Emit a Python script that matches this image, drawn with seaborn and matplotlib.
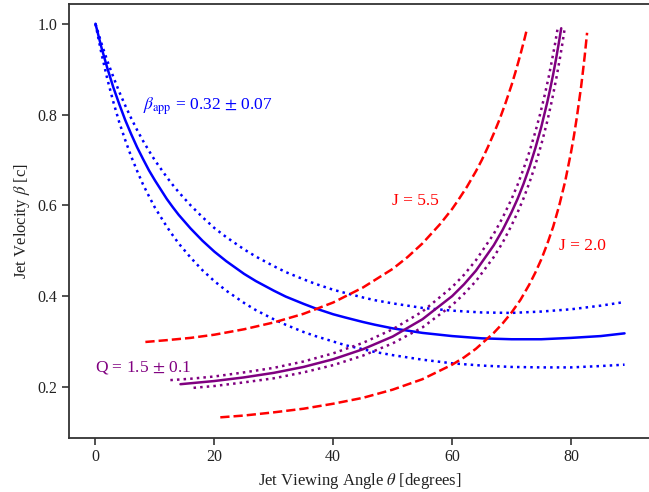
import numpy as np
import pandas as pd
import matplotlib
matplotlib.use("Agg")
import matplotlib.pyplot as plt
import seaborn as sns

# ---- data ----
# beta_app curves (solid = 0.32, dotted = 0.39 / 0.25)
theta_app = [0, 1, 2, 3, 4, 5, 6, 7, 8, 9, 10, 12, 13, 14, 16, 18, 20, 22,
             25, 27, 30, 32, 35, 37, 40, 42, 45, 47, 50, 55, 60, 65, 70, 75, 80, 85, 89]
beta_app_mid = [1.0, .948, .902, .860, .823, .788, .757, .728, .702, .677, .655, .614, .596, .579,
                .549, .522, .498, .477, .449, .433, .412, .399, .383, .373, .360, .353, .343, .337,
                .329, .319, .312, .307, .305, .305, .308, .312, .318]
beta_app_hi = [1.0, .957, .918, .883, .850, .820, .792, .766, .742, .720, .699, .662, .645, .629,
               .600, .574, .550, .530, .503, .487, .466, .453, .437, .427, .414, .407, .397, .391,
               .384, .374, .368, .364, .363, .366, .371, .379, .387]
beta_app_lo = [1.0, .935, .878, .828, .783, .744, .708, .676, .646, .620, .595, .553, .534, .516,
               .485, .457, .433, .412, .385, .369, .349, .337, .321, .312, .300, .292, .283, .277,
               .270, .260, .252, .247, .244, .243, .243, .246, .249]

# jet/counter-jet ratio curves
theta_j55 = [8.4, 12, 16, 20, 25, 30, 35, 40, 45, 50, 52.5, 55, 58, 60, 61, 62.5, 64, 65, 66, 67,
             68, 69, 70, 70.8, 71.5, 71.8, 72.2, 72.5]
beta_j55 = [.299, .303, .308, .315, .327, .342, .361, .386, .419, .460, .486, .516, .559, .592,
            .611, .641, .675, .700, .728, .758, .790, .826, .865, .900, .933, .948, .968, .984]
theta_j20 = [21, 25, 30, 35, 40, 45, 50, 55, 60, 62, 64, 67, 68.5, 70, 71.5, 73, 74, 75, 76, 77,
             78, 79, 80, 80.5, 81, 81.7, 82, 82.3, 82.7]
beta_j20 = [.133, .137, .144, .152, .163, .176, .194, .217, .249, .265, .284, .319, .340, .364,
            .392, .426, .452, .481, .515, .553, .599, .652, .717, .754, .796, .862, .895, .929, .980]

# Q curves (solid = 1.5, dotted = +/- 0.1)
theta_q_mid = [14.3, 20, 25, 30, 35, 40, 45, 50, 55, 60, 62, 64, 67, 68.5, 70, 71, 72, 73, 74, 75,
               76, 76.5, 77, 77.5, 78, 78.35]
beta_q_mid = [.206, .213, .221, .231, .244, .261, .283, .311, .349, .400, .426, .456, .512, .546,
              .585, .614, .647, .684, .726, .773, .827, .857, .889, .924, .962, .990]
theta_q_hi = [12.6, 16, 20, 25, 30, 35, 40, 45, 50, 55, 60, 62, 64, 67, 68.5, 70, 71, 72, 73, 74,
              74.8, 75.5, 76.2, 76.8, 77.3, 77.75]
beta_q_hi = [.215, .218, .223, .232, .242, .256, .274, .297, .327, .366, .420, .447, .479, .537,
             .573, .614, .645, .680, .718, .762, .801, .839, .880, .920, .955, .990]
theta_q_lo = [16.5, 20, 25, 30, 35, 40, 45, 50, 55, 60, 62, 64, 67, 68.5, 70, 71, 72, 73, 74, 75,
              76, 76.8, 77.5, 78.2, 78.6, 78.94]
beta_q_lo = [.198, .202, .210, .219, .232, .248, .269, .296, .331, .380, .405, .433, .486, .518,
             .556, .584, .615, .650, .689, .734, .785, .832, .878, .929, .961, .990]

xticks = [0, 20, 40, 60, 80]
yticks = [0.2, 0.4, 0.6, 0.8, 1.0]

# ---- styling ----
sns.set_theme(style="ticks")
plt.rcParams["font.family"] = ["Liberation Serif", "DejaVu Serif"]
plt.rcParams["mathtext.fontset"] = "stix"

fig = plt.figure(figsize=(6.49, 4.92), dpi=100)
ax = fig.add_axes([69 / 649, 1 - 437.5 / 492, (651 - 69) / 649, (437.5 - 4) / 492])

def draw(x, y, color, ls, lw=1.8):
    df = pd.DataFrame({"x": x, "y": y})
    sns.lineplot(data=df, x="x", y="y", ax=ax, color=color, linestyle=ls, linewidth=lw,
                 sort=False, estimator=None)

draw(theta_app, beta_app_mid, "blue", "-")
draw(theta_app, beta_app_hi, "blue", ":")
draw(theta_app, beta_app_lo, "blue", ":")
draw(theta_j55, beta_j55, "red", "--")
draw(theta_j20, beta_j20, "red", "--")
draw(theta_q_mid, beta_q_mid, "purple", "-")
draw(theta_q_hi, beta_q_hi, "purple", ":")
draw(theta_q_lo, beta_q_lo, "purple", ":")

ax.set_xlim(-4.45, 93.45)
ax.set_ylim(0.0886, 1.0434)
ax.set_xticks(xticks)
ax.set_yticks(yticks)
ax.set_xticklabels([str(t) for t in xticks])
ax.set_yticklabels([f"{t:.1f}" for t in yticks])
ax.tick_params(direction="out", length=5, width=1.1, labelsize=11.5, colors="#222222")
for s in ax.spines.values():
    s.set_color("#333333")
    s.set_linewidth(1.3)

ax.set_xlabel(r"Jet Viewing Angle $\theta$ [degrees]", fontsize=12, color="#222222")
ax.set_ylabel(r"Jet Velocity $\beta$ [c]", fontsize=12, color="#222222")

ax.text(8.0, 0.818, r"$\beta_{\rm app}$ = 0.32 $\pm$ 0.07", color="blue", fontsize=12.5, va="center", ha="left")
ax.text(49.9, 0.609, "J = 5.5", color="red", fontsize=12.5, va="center", ha="left")
ax.text(78.0, 0.51, "J = 2.0", color="red", fontsize=12.5, va="center", ha="left")
ax.text(0.0, 0.242, "Q = 1.5 $\\pm$ 0.1", color="purple", fontsize=12.5, va="center", ha="left")

fig.savefig("out.png", dpi=100)
